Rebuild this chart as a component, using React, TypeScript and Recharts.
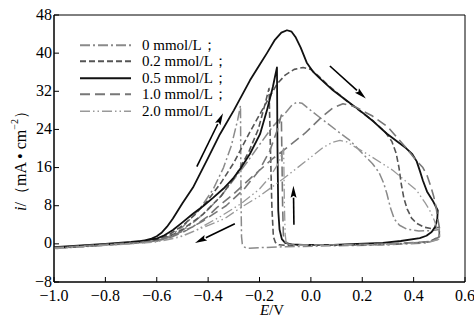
import React from "react"
import { LineChart, Line, XAxis, YAxis, ReferenceArea, ReferenceLine, Legend } from "recharts"

const FONT = '"Liberation Serif", "Times New Roman", serif'

// axis ticks
const eTicks = [-1.0, -0.8, -0.6, -0.4, -0.2, 0, 0.2, 0.4, 0.6]
const iTicks = [-8, 0, 8, 16, 24, 32, 40, 48]

// [E (V), i (mA/cm2)], forward scan then reverse scan
const curve0: [number, number][] = [
  [-1.0, -0.9], [-0.8, -0.2], [-0.65, 0.3], [-0.6, 0.6], [-0.55, 1.4], [-0.5, 2.8], [-0.45, 4.8],
  [-0.4, 7.2], [-0.35, 10], [-0.3, 13.5], [-0.25, 17], [-0.2, 20.8], [-0.15, 24.5], [-0.1, 27.4],
  [-0.075, 29], [-0.055, 29.7], [-0.035, 29.5], [-0.01, 28.4], [0.035, 26.5], [0.1, 23.8],
  [0.152, 21.7], [0.2, 19], [0.24, 16.8], [0.265, 15], [0.283, 12.8], [0.296, 10.5], [0.31, 7.5],
  [0.325, 5.2], [0.345, 3.9], [0.373, 3.1], [0.42, 2.7], [0.475, 2.8], [0.5, 3],
  [0.5, 1], [0.45, 0.2], [0.3, -0.2], [0.1, -0.4], [-0.1, -0.6], [-0.2, -0.8], [-0.24, -0.9],
  [-0.258, -0.7], [-0.267, 0], [-0.27, 1.5], [-0.272, 10], [-0.274, 29], [-0.285, 26], [-0.31, 20.5],
  [-0.34, 16], [-0.38, 11.5], [-0.43, 7.5], [-0.5, 3.5], [-0.55, 1.6], [-0.6, 0.6], [-0.7, 0.1],
  [-0.8, -0.3], [-1.0, -1],
]

const curve02: [number, number][] = [
  [-1.0, -0.8], [-0.8, -0.1], [-0.65, 0.4], [-0.6, 0.9], [-0.55, 2], [-0.5, 3.8], [-0.45, 6.2],
  [-0.4, 9.2], [-0.35, 12.8], [-0.3, 17], [-0.237, 23.5], [-0.18, 29], [-0.132, 33.5], [-0.1, 35.4],
  [-0.065, 36.6], [-0.03, 37], [0.0, 36.6], [0.03, 35.2], [0.062, 33.5], [0.15, 29.5], [0.24, 25.9],
  [0.29, 23.4], [0.315, 21.5], [0.332, 19], [0.343, 16], [0.352, 12.5], [0.362, 9.6], [0.375, 7.3],
  [0.392, 5.4], [0.412, 4.3], [0.44, 3.5], [0.47, 3.2], [0.5, 3.5],
  [0.5, 1.5], [0.46, 0.4], [0.3, -0.1], [0.1, -0.3], [-0.1, -0.3], [-0.125, -0.2], [-0.138, 0.3],
  [-0.146, 1.5], [-0.152, 8], [-0.163, 32.6], [-0.18, 29], [-0.205, 24], [-0.24, 19.5], [-0.29, 14.5],
  [-0.35, 10], [-0.42, 6.2], [-0.5, 3], [-0.55, 1.6], [-0.6, 0.8], [-0.7, 0.2], [-0.8, -0.2],
  [-1.0, -0.9],
]

const curve05: [number, number][] = [
  [-1.0, -0.7], [-0.8, 0.0], [-0.7, 0.4], [-0.65, 0.7], [-0.62, 1.1], [-0.6, 1.6], [-0.58, 2.4],
  [-0.56, 3.6], [-0.537, 5.3], [-0.5, 8.5], [-0.459, 11.8], [-0.405, 17.5], [-0.354, 23], [-0.3, 28],
  [-0.237, 34.3], [-0.2, 37.5], [-0.171, 40], [-0.14, 42.8], [-0.115, 44.3], [-0.093, 44.8],
  [-0.075, 44.5], [-0.06, 43.4], [-0.04, 41.2], [-0.016, 38], [0.01, 36], [0.035, 34.7],
  [0.086, 32.2], [0.14, 30], [0.19, 28], [0.245, 25.6], [0.296, 23.1], [0.34, 21.3], [0.37, 20.1],
  [0.395, 18.8], [0.412, 17.3], [0.425, 15.2], [0.436, 13.3], [0.452, 11], [0.475, 9], [0.494, 7],
  [0.492, 5.2], [0.484, 3.6], [0.47, 2.5], [0.45, 1.7], [0.424, 1.2], [0.35, 0.6], [0.28, 0.2],
  [0.18, 0], [0.086, -0.2], [-0.03, -0.2], [-0.075, -0.1], [-0.1, 0.2], [-0.113, 1], [-0.122, 3],
  [-0.127, 7], [-0.13, 20], [-0.132, 37], [-0.14, 35], [-0.148, 32.9], [-0.171, 28], [-0.198, 23],
  [-0.237, 18.9], [-0.27, 16.1], [-0.3, 13.9], [-0.34, 11.6], [-0.38, 9.7], [-0.42, 7.9],
  [-0.459, 6.3], [-0.5, 4.5], [-0.537, 2.9], [-0.57, 1.8], [-0.6, 1.1], [-0.7, 0.3], [-0.8, -0.1],
  [-1.0, -0.8],
]

const curve10: [number, number][] = [
  [-1.0, -0.8], [-0.8, -0.1], [-0.65, 0.3], [-0.6, 0.7], [-0.55, 1.5], [-0.5, 2.6], [-0.459, 3.6],
  [-0.4, 5.8], [-0.366, 7.6], [-0.3, 10.5], [-0.226, 14.2], [-0.15, 17.8], [-0.093, 20.2],
  [-0.023, 23.2], [0.04, 26.5], [0.085, 28.5], [0.125, 29.4], [0.17, 28.8], [0.24, 26.8], [0.3, 24.5],
  [0.373, 20], [0.41, 17.5], [0.436, 16], [0.452, 14.4], [0.466, 12.2], [0.478, 10], [0.488, 7.5],
  [0.495, 5], [0.5, 3.5],
  [0.5, 1.5], [0.47, 0.5], [0.3, 0], [0.1, -0.2], [-0.05, -0.2], [-0.085, -0.1], [-0.1, 0.4],
  [-0.107, 1.8], [-0.11, 8], [-0.115, 27], [-0.13, 24], [-0.16, 19.5], [-0.2, 15.5], [-0.26, 11.5],
  [-0.33, 8], [-0.42, 4.8], [-0.5, 2.4], [-0.55, 1.3], [-0.6, 0.6], [-0.7, 0.1], [-0.8, -0.2],
  [-1.0, -0.9],
]

const curve20: [number, number][] = [
  [-1.0, -0.9], [-0.8, -0.3], [-0.65, 0.2], [-0.6, 0.5], [-0.5, 1.6], [-0.43, 3.2], [-0.335, 5.3],
  [-0.276, 7.5], [-0.2, 10], [-0.109, 13.6], [-0.023, 17.2], [0.05, 20.3], [0.085, 21.3],
  [0.113, 21.7], [0.14, 21.4], [0.16, 20.7], [0.218, 18.9], [0.32, 15.4], [0.412, 11.2],
  [0.445, 8.6], [0.463, 7], [0.48, 5], [0.49, 3.4], [0.5, 2.5],
  [0.5, 1], [0.45, 0.3], [0.3, -0.1], [0.1, -0.3], [-0.06, -0.3], [-0.088, -0.1], [-0.097, 0.6],
  [-0.1, 2], [-0.103, 8], [-0.106, 20], [-0.125, 17], [-0.16, 14], [-0.2, 11.5], [-0.27, 8.5],
  [-0.35, 5.8], [-0.45, 2.8], [-0.52, 1.3], [-0.6, 0.4], [-0.7, 0], [-0.8, -0.3], [-1.0, -1],
]

// scan direction arrows: [start, end] in E / i
const arrows: [number, number, number, number][] = [
  [-0.444, 16.2, -0.342, 27.4],
  [0.074, 37.3, 0.214, 30.5],
  [-0.066, 4, -0.068, 12.2],
  [-0.296, 4.2, -0.451, 0.2],
]

const series = [
  { name: "0 mmol/L；", points: curve0, color: "#8a8a8a", dash: "10 3 2 3", width: 1.5 },
  { name: "0.2 mmol/L；", points: curve02, color: "#555", dash: "6 3", width: 1.6 },
  { name: "0.5 mmol/L；", points: curve05, color: "#111", dash: undefined, width: 1.8 },
  { name: "1.0 mmol/L；", points: curve10, color: "#777", dash: "10 5", width: 1.6 },
  { name: "2.0 mmol/L", points: curve20, color: "#999", dash: "10 3 1.5 3 1.5 3", width: 1.3 },
]

const fmtE = (v: number) => (v < 0 ? "\u2212" : "") + Math.abs(v).toFixed(1)
const fmtI = (v: number) => (v < 0 ? "\u2212" : "") + Math.abs(v)

const XTick = ({ x, y, payload }: any) => (
  <g>
    <line x1={x} y1={y} x2={x} y2={y - 5} stroke="#000" strokeWidth={1} />
    <text x={x} y={y + 13} textAnchor="middle" dominantBaseline="central" fontFamily={FONT} fontSize={16} fill="#000">
      {fmtE(payload.value)}
    </text>
  </g>
)

const YTick = ({ x, y, payload }: any) => (
  <g>
    <line x1={x} y1={y} x2={x + 5} y2={y} stroke="#000" strokeWidth={1} />
    <text x={x - 2} y={y - 1} textAnchor="end" dominantBaseline="central" fontFamily={FONT} fontSize={16} fill="#000">
      {fmtI(payload.value)}
    </text>
  </g>
)

const Arrow = (props: any) => {
  const { x1, y1, x2, y2 } = props
  const a = Math.atan2(y2 - y1, x2 - x1)
  const len = 12
  const hw = 3
  const bx = x2 - len * Math.cos(a)
  const by = y2 - len * Math.sin(a)
  const px = -Math.sin(a) * hw
  const py = Math.cos(a) * hw
  return (
    <g>
      <line x1={x1} y1={y1} x2={bx} y2={by} stroke="#000" strokeWidth={1.6} />
      <polygon points={`${x2},${y2} ${bx + px},${by + py} ${bx + 2 * Math.cos(a)},${by + 2 * Math.sin(a)} ${bx - px},${by - py}`} fill="#000" />
    </g>
  )
}

const LegendBox = () => (
  <div style={{ fontFamily: FONT, fontSize: 15, color: "#000" }}>
    {series.map((s) => (
      <div key={s.name} style={{ display: "flex", alignItems: "center", height: 16.5 }}>
        <svg width={64} height={16.5}>
          <line x1={2} y1={8.25} x2={53} y2={8.25} stroke={s.color} strokeWidth={s.width + 0.3} strokeDasharray={s.dash} />
        </svg>
        <span style={{ whiteSpace: "nowrap", lineHeight: "16.5px" }}>{s.name}</span>
      </div>
    ))}
  </div>
)

export default function App() {
  return (
    <div style={{ position: "absolute", left: 0, top: 0, width: 474, height: 320, background: "#fff" }}>
      <LineChart width={474} height={320} margin={{ top: 15, right: 9, bottom: 0, left: 0 }}>
        <XAxis
          dataKey="E"
          type="number"
          domain={[-1, 0.6]}
          ticks={eTicks}
          allowDataOverflow
          axisLine={{ stroke: "#000" }}
          tickLine={false}
          tickSize={0}
          tickMargin={0}
          tick={<XTick />}
          height={38}
          interval={0}
          label={{
            content: () => (
              <text x={272} y={310} textAnchor="middle" dominantBaseline="central" fontFamily={FONT} fontSize={15} fill="#000">
                <tspan fontStyle="italic">E</tspan>/V
              </text>
            ),
          }}
        />
        <YAxis
          type="number"
          domain={[-8, 48]}
          ticks={iTicks}
          allowDataOverflow
          width={54}
          axisLine={{ stroke: "#000" }}
          tickLine={false}
          tickSize={0}
          tickMargin={0}
          tick={<YTick />}
          interval={0}
          label={{
            content: () => (
              <text
                transform="translate(20,157) rotate(-90)"
                textAnchor="middle"
                dominantBaseline="central"
                fontFamily={FONT}
                fontSize={16}
                fill="#000"
              >
                <tspan fontStyle="italic">i</tspan>
                <tspan>/（mA • cm</tspan>
                <tspan fontSize={10} dy={-6}>−2</tspan>
                <tspan dy={6}>）</tspan>
              </text>
            ),
          }}
        />
        <ReferenceArea x1={-1} x2={0.6} y1={-8} y2={48} fill="none" stroke="#000" strokeWidth={1} ifOverflow="visible" />
        {series.map((s) => (
          <Line
            key={s.name}
            data={s.points.map(([E, i]) => ({ E, i }))}
            dataKey="i"
            name={s.name}
            type="linear"
            stroke={s.color}
            strokeWidth={s.width}
            strokeDasharray={s.dash}
            strokeLinejoin="round"
            dot={false}
            activeDot={false}
            isAnimationActive={false}
          />
        ))}
        {arrows.map(([xa, ya, xb, yb], k) => (
          <ReferenceLine
            key={k}
            segment={[{ x: xa, y: ya }, { x: xb, y: yb }]}
            shape={<Arrow />}
            ifOverflow="visible"
          />
        ))}
        <Legend
          content={<LegendBox />}
          layout="vertical"
          verticalAlign="middle"
          align="center"
          wrapperStyle={{ position: "absolute", left: 78, top: 36.5, width: 220 }}
        />
      </LineChart>
    </div>
  )
}
